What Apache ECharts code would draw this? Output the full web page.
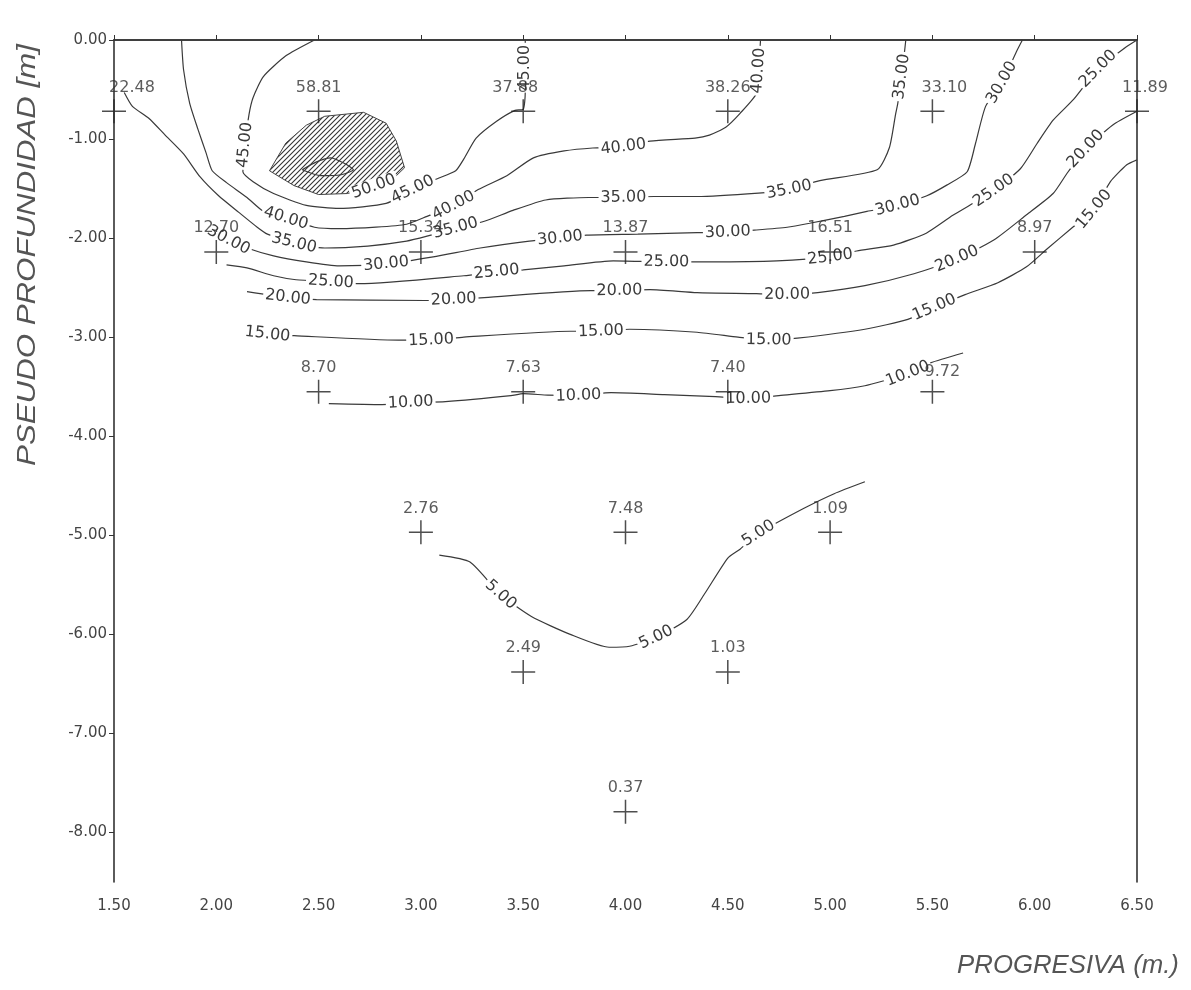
<!DOCTYPE html>
<html><head><meta charset="utf-8">
<script src="https://cdn.jsdelivr.net/npm/echarts@6/dist/echarts.min.js"></script>
<style>html,body{margin:0;padding:0;background:#fff}#c{width:1191px;height:990px}</style>
</head><body><div id="c"></div>
<script>
// ---- axes ----
const xTicks = [1.5, 2, 2.5, 3, 3.5, 4, 4.5, 5, 5.5, 6, 6.5];
const yTicks = [0, -1, -2, -3, -4, -5, -6, -7, -8];
const xTitle = 'PROGRESIVA (m.)';
const yTitle = 'PSEUDO PROFUNDIDAD [m]';

// ---- measured points (pseudo-section) ----
const ptX = [1.5, 2.5, 3.5, 4.5, 5.5, 6.5, 2, 3, 4, 5, 6, 2.5, 3.5, 4.5, 5.5, 3, 4, 5, 3.5, 4.5, 4];
const ptY = [-0.72, -0.72, -0.72, -0.72, -0.72, -0.72, -2.14, -2.14, -2.14, -2.14, -2.14,
             -3.55, -3.55, -3.55, -3.55, -4.97, -4.97, -4.97, -6.38, -6.38, -7.79];
const ptVal = [22.48, 58.81, 37.88, 38.26, 33.10, 11.89, 12.70, 15.34, 13.87, 16.51, 8.97,
               8.70, 7.63, 7.40, 9.72, 2.76, 7.48, 1.09, 2.49, 1.03, 0.37];

// ---- contour lines [x, depth] ----
const c50 = [[2.42,-1.31],[2.49,-1.23],[2.56,-1.19],[2.63,-1.25],[2.67,-1.31],[2.61,-1.36],[2.51,-1.37],[2.42,-1.31]];
const c45 = [[2.48,0],[2.34,-0.16],[2.23,-0.37],[2.18,-0.58],[2.16,-0.75],[2.14,-1.06],[2.13,-1.33],[2.18,-1.43],[2.28,-1.55],[2.44,-1.67],[2.60,-1.70],[2.83,-1.65],[2.96,-1.51],[3.08,-1.40],[3.17,-1.32],[3.21,-1.20],[3.27,-0.99],[3.37,-0.82],[3.46,-0.71],[3.50,-0.70],[3.51,-0.53],[3.51,-0.28],[3.51,0]];
const c40 = [[1.83,0],[1.84,-0.30],[1.87,-0.64],[1.91,-0.90],[1.95,-1.14],[1.98,-1.32],[2.05,-1.44],[2.15,-1.59],[2.23,-1.73],[2.34,-1.80],[2.48,-1.89],[2.60,-1.905],[2.78,-1.89],[2.93,-1.86],[3.03,-1.78],[3.16,-1.67],[3.28,-1.51],[3.42,-1.37],[3.55,-1.19],[3.70,-1.12],[3.84,-1.09],[3.99,-1.08],[4.12,-1.02],[4.34,-0.99],[4.41,-0.96],[4.49,-0.88],[4.56,-0.74],[4.64,-0.54],[4.65,-0.31],[4.66,0]];
const c35 = [[1.55,-0.53],[1.59,-0.67],[1.67,-0.79],[1.75,-0.96],[1.84,-1.15],[1.92,-1.38],[2.01,-1.57],[2.11,-1.74],[2.20,-1.89],[2.25,-1.96],[2.38,-2.05],[2.53,-2.10],[2.74,-2.08],[2.93,-2.03],[3.03,-1.98],[3.17,-1.90],[3.31,-1.83],[3.45,-1.72],[3.61,-1.615],[3.82,-1.59],[3.99,-1.59],[4.14,-1.58],[4.35,-1.58],[4.65,-1.545],[4.80,-1.51],[4.95,-1.42],[5.23,-1.31],[5.29,-1.085],[5.32,-0.75],[5.33,-0.65],[5.35,-0.37],[5.37,0]];
const c30 = [[2.01,-1.95],[2.06,-2.02],[2.15,-2.10],[2.28,-2.18],[2.44,-2.24],[2.60,-2.28],[2.83,-2.26],[3.06,-2.19],[3.29,-2.10],[3.53,-2.03],[3.68,-2.00],[3.81,-1.97],[4.06,-1.96],[4.35,-1.945],[4.50,-1.94],[4.63,-1.92],[4.79,-1.89],[4.90,-1.85],[5.07,-1.78],[5.18,-1.73],[5.33,-1.67],[5.47,-1.575],[5.57,-1.465],[5.67,-1.33],[5.71,-1.05],[5.76,-0.67],[5.84,-0.43],[5.91,-0.12],[5.94,0]];
const c25 = [[2.05,-2.27],[2.15,-2.30],[2.28,-2.38],[2.39,-2.42],[2.56,-2.44],[2.70,-2.46],[3.21,-2.38],[3.37,-2.34],[3.50,-2.32],[3.70,-2.28],[3.94,-2.23],[4.20,-2.24],[4.41,-2.24],[4.74,-2.23],[5.00,-2.19],[5.13,-2.13],[5.31,-2.07],[5.47,-1.95],[5.60,-1.77],[5.80,-1.52],[5.93,-1.30],[6.01,-1.05],[6.09,-0.81],[6.19,-0.60],[6.31,-0.29],[6.44,-0.08],[6.50,0]];
const c20 = [[2.15,-2.54],[2.35,-2.60],[2.49,-2.62],[3.02,-2.63],[3.16,-2.62],[3.31,-2.60],[3.83,-2.53],[3.97,-2.53],[4.12,-2.52],[4.35,-2.55],[4.64,-2.56],[4.79,-2.57],[4.94,-2.55],[5.17,-2.48],[5.41,-2.36],[5.62,-2.21],[5.80,-2.02],[5.96,-1.765],[6.09,-1.55],[6.16,-1.34],[6.25,-1.10],[6.38,-0.86],[6.50,-0.72]];
const c15 = [[2.15,-2.93],[2.25,-2.97],[2.38,-2.985],[2.89,-3.03],[3.05,-3.03],[3.21,-3.00],[3.73,-2.94],[3.88,-2.94],[4.02,-2.92],[4.35,-2.95],[4.55,-3.00],[4.70,-3.03],[4.84,-3.01],[5.17,-2.92],[5.38,-2.82],[5.51,-2.70],[5.66,-2.57],[5.82,-2.45],[5.96,-2.29],[6.06,-2.11],[6.18,-1.90],[6.29,-1.71],[6.37,-1.43],[6.45,-1.26],[6.50,-1.21]];
const c10 = [[2.55,-3.67],[2.81,-3.68],[2.95,-3.66],[3.12,-3.65],[3.44,-3.59],[3.50,-3.57],[3.62,-3.585],[3.77,-3.59],[3.93,-3.56],[4.19,-3.58],[4.44,-3.60],[4.60,-3.62],[4.75,-3.59],[5.00,-3.54],[5.17,-3.49],[5.28,-3.43],[5.38,-3.37],[5.49,-3.26],[5.65,-3.16]];
const c5 = [[3.09,-5.20],[3.24,-5.27],[3.39,-5.60],[3.54,-5.82],[3.73,-6.00],[3.92,-6.13],[4.02,-6.12],[4.15,-6.03],[4.30,-5.85],[4.39,-5.58],[4.50,-5.23],[4.56,-5.14],[4.65,-4.98],[4.87,-4.73],[5.02,-4.58],[5.17,-4.46]];

// hatched high-resistivity zone
const hatchX = [2.26, 2.34, 2.44, 2.53, 2.72, 2.83, 2.88, 2.92, 2.88, 2.77, 2.64, 2.50, 2.38];
const hatchY = [-1.32, -1.04, -0.86, -0.77, -0.73, -0.84, -1.02, -1.29, -1.37, -1.48, -1.55, -1.56, -1.47];

// contour levels and which vertex carries the label
const levels = ['50.00', '45.00', '40.00', '35.00', '30.00', '25.00', '20.00', '15.00', '10.00', '5.00'];
const lab45 = [5, 12, 21];
const lab40 = [9, 15, 21, 28];
const lab35 = [10, 15, 20, 24, 30];
const lab30 = [1, 6, 10, 14, 20, 26];
const lab25 = [4, 7, 11, 14, 19, 24];
const lab20 = [1, 4, 7, 11, 15, 20];
const lab15 = [1, 4, 7, 11, 15, 21];
const lab10 = [2, 7, 11, 16];
const lab5 = [2, 7, 12];
const labHatch = [9];

// ---------- build ----------
const INK = '#333';
const FONT = '"DejaVu Sans", "Liberation Sans", sans-serif';
const hatchPts = hatchX.map((x, i) => [x, hatchY[i]]);
const contours = [c50, c45, c40, c35, c30, c25, c20, c15, c10, c5];
const labelSets = [[hatchPts, labHatch, levels[0]], [c45, lab45, levels[1]], [c40, lab40, levels[2]],
  [c35, lab35, levels[3]], [c30, lab30, levels[4]], [c25, lab25, levels[5]], [c20, lab20, levels[6]],
  [c15, lab15, levels[7]], [c10, lab10, levels[8]], [c5, lab5, levels[9]]];

// hatch pattern
const pc = document.createElement('canvas');
pc.width = 5; pc.height = 5;
const g = pc.getContext('2d');
g.strokeStyle = '#333'; g.lineWidth = 1.1;
g.beginPath();
g.moveTo(0, 5); g.lineTo(5, 0);
g.moveTo(-1, 1); g.lineTo(1, -1);
g.moveTo(4, 6); g.lineTo(6, 4);
g.stroke();

const series = [];
contours.forEach((pts) => {
  series.push({
    type: 'line', data: pts, symbol: 'none', smooth: 0.2, silent: true, z: 2,
    lineStyle: { color: '#3a3a3a', width: 1.2 }
  });
});

series.push({
  type: 'custom', z: 1, silent: true, data: [hatchPts[0]],
  renderItem: function (params, api) {
    const pts = hatchPts.map(p => api.coord(p));
    return {
      type: 'polygon', shape: { points: pts },
      style: { fill: { type: 'pattern', image: pc, repeat: 'repeat' }, stroke: '#444', lineWidth: 1 }
    };
  }
});

function makeLabelRenderer(pts, idxs, text) {
  return function (params, api) {
    const i = idxs[params.dataIndex];
    const a = api.coord(pts[Math.max(0, i - 1)]);
    const b = api.coord(pts[Math.min(pts.length - 1, i + 1)]);
    const p = api.coord(pts[i]);
    let ang = Math.atan2(-(b[1] - a[1]), b[0] - a[0]);
    if (ang > Math.PI / 2) ang -= Math.PI;
    if (ang < -Math.PI / 2) ang += Math.PI;
    return {
      type: 'text', x: p[0], y: p[1], rotation: ang, z2: 10,
      style: {
        text: text, x: 0, y: 0, align: 'center', verticalAlign: 'middle',
        fill: '#3a3a3a', font: '16px ' + FONT, backgroundColor: '#fff', padding: [0, 2]
      }
    };
  };
}
labelSets.forEach(([pts, idxs, text]) => {
  series.push({
    type: 'custom', z: 3, silent: true, data: idxs.map(i => pts[i]),
    renderItem: makeLabelRenderer(pts, idxs, text)
  });
});

const labelShift = { 22.48: [18, 0], 33.10: [12, 0], 37.88: [-8, 0], 11.89: [8, 0], 9.72: [10, 4] };
series.push({
  type: 'scatter', z: 5, silent: true,
  symbol: 'path://M10,0 L10,20 M0,10 L20,10', symbolSize: 24,
  itemStyle: { color: 'rgba(0,0,0,0)', borderColor: '#222', borderWidth: 1.5 },
  data: ptX.map((x, i) => ({
    value: [x, ptY[i], ptVal[i]],
    label: labelShift[ptVal[i]] ? { offset: labelShift[ptVal[i]] } : undefined
  })),
  label: {
    show: true, position: 'top', distance: 3,
    formatter: p => p.value[2].toFixed(2),
    color: '#333', fontFamily: FONT, fontSize: 16
  }
});

const chart = echarts.init(document.getElementById('c'), null, { renderer: 'canvas' });
chart.setOption({
  backgroundColor: '#fff',
  animation: false,
  grid: { left: 114, right: 54, top: 40, bottom: 108, containLabel: false },
  xAxis: [{
    type: 'value', min: xTicks[0], max: xTicks[xTicks.length - 1], interval: 0.5,
    axisLine: { show: true, lineStyle: { color: INK, width: 1.6 } },
    axisTick: { show: true, inside: true, length: 5, lineStyle: { color: INK } },
    axisLabel: { margin: 17, color: '#444', fontFamily: FONT, fontSize: 15, formatter: v => v.toFixed(2) },
    splitLine: { show: false }
  }, {
    type: 'value', position: 'top', min: xTicks[0], max: xTicks[xTicks.length - 1], interval: 0.5,
    axisLine: { show: true, onZero: false, lineStyle: { color: INK, width: 1.6 } },
    axisTick: { show: true, length: 4, lineStyle: { color: INK } },
    axisLabel: { show: false }, splitLine: { show: false }
  }],
  yAxis: [{
    type: 'value', min: -8.5, max: 0, interval: 0.5,
    axisLine: { show: true, onZero: false, lineStyle: { color: INK, width: 1.6 } },
    axisTick: { show: true, length: 5, customValues: yTicks, lineStyle: { color: INK } },
    axisLabel: { margin: 7, color: '#444', fontFamily: FONT, fontSize: 15, customValues: yTicks,
      formatter: v => (Math.abs(v) < 1e-9 ? 0 : v).toFixed(2) },
    splitLine: { show: false }
  }, {
    type: 'value', position: 'right', min: -8.5, max: 0, interval: 0.5,
    axisLine: { show: true, onZero: false, lineStyle: { color: INK, width: 1.6 } },
    axisTick: { show: false }, axisLabel: { show: false }, splitLine: { show: false }
  }],
  graphic: [
    { type: 'text', x: 28, y: 255, rotation: Math.PI / 2, scaleX: 1.25,
      style: { text: yTitle, x: 0, y: 0, align: 'center', verticalAlign: 'middle',
        font: 'italic 25px "Liberation Sans", sans-serif', fill: '#555' } },
    { type: 'text', x: 1068, y: 966, scaleX: 1.03,
      style: { text: xTitle, x: 0, y: 0, align: 'center', verticalAlign: 'middle',
        font: 'italic 25px "Liberation Sans", sans-serif', fill: '#555' } }
  ],
  series: series
});
</script>
</body></html>
